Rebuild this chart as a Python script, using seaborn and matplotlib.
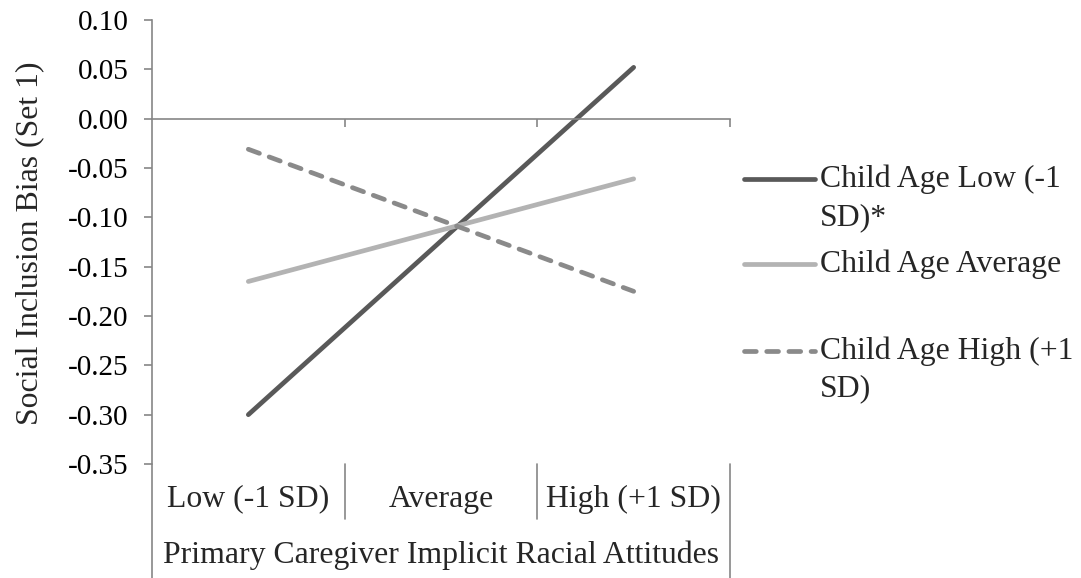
import numpy as np
import pandas as pd
import matplotlib
matplotlib.use("Agg")
import matplotlib.pyplot as plt
import matplotlib.transforms as mtrans
from matplotlib.lines import Line2D
import seaborn as sns

# ---------------- data ----------------
categories = ["Low (-1 SD)", "Average", "High (+1 SD)"]
series_names = ["Child Age Low (-1 SD)*", "Child Age Average", "Child Age High (+1 SD)"]
child_age_low = [-0.300, -0.124, 0.052]
child_age_average = [-0.165, -0.113, -0.061]
child_age_high = [-0.031, -0.103, -0.175]
y_ticks = [0.10, 0.05, 0.00, -0.05, -0.10, -0.15, -0.20, -0.25, -0.30, -0.35]
x_title = "Primary Caregiver Implicit Racial Attitudes"
y_title = "Social Inclusion Bias (Set 1)"
legend_text = [["Child Age Low (-1", "SD)*"], ["Child Age Average"], ["Child Age High (+1", "SD)"]]

df = pd.DataFrame({
    "category": categories * 3,
    "series": np.repeat(series_names, len(categories)),
    "value": child_age_low + child_age_average + child_age_high,
})

# ---------------- style ----------------
sns.set_theme(style="white")
plt.rcParams["font.family"] = ["Liberation Serif", "DejaVu Serif"]
FS_TICK = 21.0
FS = 22.9
AXC = "#868686"

W, H = 1081, 578
fig = plt.figure(figsize=(W / 100, H / 100), dpi=100)
L, R, T, B = 152, 730, 20, 464
ax = fig.add_axes([L / W, 1 - B / H, (R - L) / W, (B - T) / H])

colors = {series_names[0]: "#595959", series_names[1]: "#b3b3b3", series_names[2]: "#8a8a8a"}
dash_map = {series_names[0]: "", series_names[1]: "", series_names[2]: (2.5, 2.2)}
LW = 3.4

sns.lineplot(data=df, x="category", y="value", hue="series", style="series",
             palette=colors, dashes=dash_map, hue_order=series_names, style_order=series_names,
             sort=False, linewidth=LW, legend=False, ax=ax)
for ln in ax.lines:
    ln.set_solid_capstyle("round")
    ln.set_dash_capstyle("round")

ax.set_xlim(-0.5, len(categories) - 0.5)
ax.set_ylim(y_ticks[-1], y_ticks[0])
ax.set_yticks(y_ticks)
ax.set_yticklabels([f"{v:.2f}" for v in y_ticks], fontsize=FS_TICK, color="black")
ax.set_xticks([i + 0.5 for i in range(len(categories))])
ax.set_xticklabels([])
ax.set_xlabel("")
ax.set_ylabel("")

for s in ["top", "right"]:
    ax.spines[s].set_visible(False)
ax.spines["left"].set_color(AXC)
ax.spines["left"].set_linewidth(1.2)
ax.spines["bottom"].set_color(AXC)
ax.spines["bottom"].set_linewidth(1.2)
ax.spines["bottom"].set_position(("data", 0))
ax.tick_params(axis="y", direction="out", length=6, width=1.2, color=AXC, pad=11, left=True)
ax.tick_params(axis="x", direction="out", length=6, width=1.2, color=AXC, bottom=True)

# y title
fig.text(30 / W, 1 - 243 / H, y_title, rotation=90, ha="center", va="center", fontsize=FS)

# category axis labels (two levels) with separators
bt = mtrans.blended_transform_factory(ax.transData, fig.transFigure)
row1_y = 1 - 499 / H
row2_y = 1 - 555 / H
for i, c in enumerate(categories):
    fig.text(i, row1_y, c, transform=bt, ha="center", va="center", fontsize=FS)
fig.text((len(categories) - 1) / 2, row2_y, x_title, transform=bt, ha="center", va="center", fontsize=FS)

y_top = 1 - B / H
y_mid = 1 - 519 / H
for i in range(len(categories) - 1):
    fig.add_artist(Line2D([i + 0.5, i + 0.5], [y_top, y_mid], transform=bt, color=AXC, lw=1.2))
for xe in [-0.5, len(categories) - 0.5]:
    fig.add_artist(Line2D([xe, xe], [y_top, 0], transform=bt, color=AXC, lw=1.2))

# legend (manual layout)
entry_y = [[179, 218], [264], [351, 389]]
for name, lines_txt, ys in zip(series_names, legend_text, entry_y):
    d = dash_map[name]
    ln = Line2D([744 / W, 815 / W], [1 - ys[0] / H] * 2, transform=fig.transFigure,
                color=colors[name], lw=LW, solid_capstyle="round", dash_capstyle="round")
    if d:
        ln.set_dashes(d)
    fig.add_artist(ln)
    for t, yy in zip(lines_txt, ys):
        fig.text(820 / W, 1 - yy / H, t, ha="left", va="center", fontsize=FS)

fig.savefig("out.png", dpi=100)
